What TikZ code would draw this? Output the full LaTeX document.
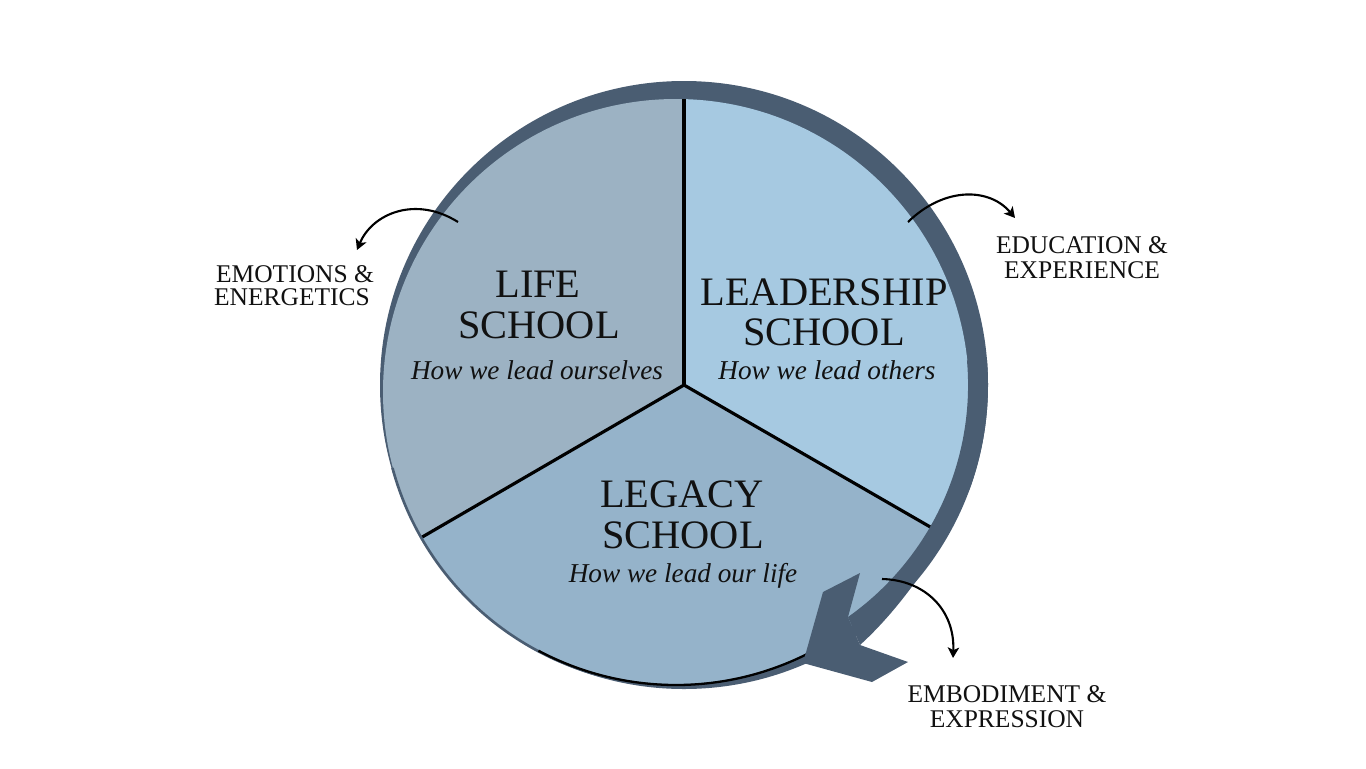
\documentclass[tikz,border=0pt]{standalone}
\usepackage{fontspec}
\setmainfont{Liberation Serif}
\usetikzlibrary{arrows.meta,calc}
\definecolor{ringc}{HTML}{4A5D72}
\definecolor{lifec}{HTML}{9CB2C3}
\definecolor{leadc}{HTML}{A6C9E1}
\definecolor{legc}{HTML}{95B3CA}
\definecolor{inkc}{HTML}{111111}
\begin{document}
\begin{tikzpicture}[x=0.02cm,y=-0.02cm,
  divider/.style={line width=1.8pt,black,line cap=round},
  bigt/.style={font=\fontsize{23}{24}\selectfont,anchor=base,inner sep=0pt,text=inkc},
  subt/.style={font=\fontsize{15.5}{16}\selectfont\itshape,anchor=base,inner sep=0pt,text=inkc},
  lab/.style={font=\fontsize{14.5}{14}\selectfont,anchor=base,inner sep=0pt,text=inkc},
  curvearrow/.style={line width=1.2pt,black,-{Stealth[length=6pt,width=6.5pt,inset=1.5pt]}}]
\useasboundingbox (0,0) rectangle (1366,768);
\fill[white] (0,0) rectangle (1366,768);
\coordinate (J) at (684,385);
\coordinate (C) at (676,392);
% dark ring behind
\fill[ringc] (J) circle (304);
% pie sectors
\begin{scope}
\clip (C) circle (293);
\fill[lifec] (J) -- (684,50) -- (300,50) -- (300,608) -- cycle;
\fill[leadc] (J) -- (684,50) -- (1050,50) -- (1050,596) -- cycle;
\fill[legc] (J) -- (300,608) -- (300,760) -- (1050,760) -- (1050,596) -- cycle;
\draw[divider] (J) -- (684,50);
\draw[divider] (J) -- (300,608);
\draw[divider] (J) -- (1050,596);
\end{scope}
% thin edge and black outline at the bottom of the pie
\draw[line width=1.5pt,ringc] ($(C)+(63:293.5)$) arc[start angle=63,end angle=165,radius=293.5];
\draw[line width=1.3pt,black] ($(C)+(63:293)$) arc[start angle=63,end angle=118,radius=293];
% arrow shaft on top near the head (widening towards the head)
\fill[ringc] ($(J)+(-5:304)$) arc[start angle=-5,end angle=20,radius=304]
  .. controls ($(J)+(33:306)$) and ($(J)+(46:311)$) .. (860,645)
  -- (848,617) arc[start angle=54.74,end angle=-5,radius=284] -- cycle;
% arrowhead
\fill[ringc] (803,663) -- (823,592) -- (860,573) -- (848,617)
  -- (860,645) -- (908,662) -- (872,682) -- cycle;
% school texts
\node[bigt] (lifeA) at (538,297) {LIFE};
\node[bigt] (lifeB) at (539,338) {SCHOOL};
\node[subt] (lifeC) at (537,379) {How we lead ourselves};
\node[bigt] (leadA) at (824,305) {LEADERSHIP};
\node[bigt] (leadB) at (824,345) {SCHOOL};
\node[subt] (leadC) at (827,379) {How we lead others};
\node[bigt] (legA) at (682,507) {LEGACY};
\node[bigt] (legB) at (683,548) {SCHOOL};
\node[subt] (legC) at (683,582) {How we lead our life};
% outer labels
\node[lab] (emoA) at (295,282) {EMOTIONS \&};
\node[lab] (emoB) at (292,305) {ENERGETICS};
\node[lab] (eduA) at (1082,253) {EDUCATION \&};
\node[lab] (eduB) at (1082,278) {EXPERIENCE};
\node[lab] (embA) at (1007,702) {EMBODIMENT \&};
\node[lab] (embB) at (1007,727) {EXPRESSION};
% curved arrows
\coordinate (s1) at (458,222);
\coordinate (t1) at (357,250);
\coordinate (s2) at (908,222);
\coordinate (t2) at (1015,218);
\coordinate (s3) at (882,579);
\coordinate (t3) at (953,658);
\draw[curvearrow] (s1) .. controls (415,195) and (372,214) .. (t1);
\draw[curvearrow] (s2) .. controls (945,186) and (990,188) .. (t2);
\draw[curvearrow] (s3) .. controls (925,580) and (955,610) .. (t3);
\end{tikzpicture}
\end{document}
